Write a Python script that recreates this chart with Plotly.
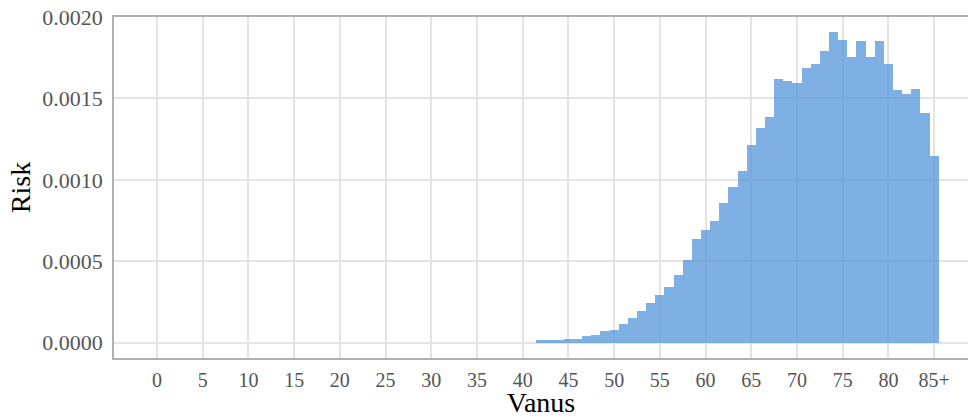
import plotly.graph_objects as go

ages = [str(a) for a in range(85)] + ["85+"]
risk = [0.0] * 42 + [
    0.000014, 0.000014, 0.000015,            # 42-44
    0.000025, 0.000025,                      # 45-46
    0.000044, 0.000046,                      # 47-48
    0.000069, 0.000080, 0.000117, 0.000150,  # 49-52
    0.000194, 0.000243, 0.000290, 0.000345,  # 53-56
    0.000417, 0.000509, 0.000636, 0.000693,  # 57-60
    0.000750, 0.000857, 0.000959, 0.001053,  # 61-64
    0.001215, 0.001319, 0.001386, 0.001617,  # 65-68
    0.001609, 0.001597, 0.001687, 0.001712,  # 69-72
    0.001791, 0.001905, 0.001861, 0.001756,  # 73-76
    0.001850, 0.001756, 0.001850, 0.001712,  # 77-80
    0.001550, 0.001525, 0.001560, 0.001409,  # 81-84
    0.001147,                                # 85+
]
x_ticks = [str(a) for a in range(0, 85, 5)] + ["85+"]
y_ticks = [0.0, 0.0005, 0.0010, 0.0015, 0.0020]
y_ticktext = ["0.0000", "0.0005", "0.0010", "0.0015", "0.0020"]

fig = go.Figure(
    go.Bar(
        x=ages,
        y=risk,
        marker=dict(color="rgb(84,150,218)", line=dict(width=0)),
        opacity=0.75,
        hoverinfo="x+y",
    )
)

font_family = "Liberation Serif, Times New Roman, serif"
fig.update_layout(
    width=968,
    height=418,
    margin=dict(l=114, r=0, t=17, b=60),
    paper_bgcolor="white",
    plot_bgcolor="white",
    bargap=0,
    showlegend=False,
    font=dict(family=font_family),
)
fig.update_xaxes(
    type="category",
    categoryorder="array",
    categoryarray=ages,
    range=[-4.7, 88.7],
    tickmode="array",
    tickvals=x_ticks,
    ticktext=x_ticks,
    tickfont=dict(size=20, color="#555555", family=font_family),
    ticks="",
    ticklabelstandoff=3,
    automargin=False,
    showgrid=True,
    gridcolor="#e4e4e4",
    gridwidth=1.5,
    showline=True,
    linecolor="#b0b0b0",
    linewidth=1.5,
    mirror=True,
    title=dict(text="Vanus", font=dict(size=28, color="black", family=font_family), standoff=7),
)
fig.update_yaxes(
    range=[-0.000094, 0.002],
    tickmode="array",
    tickvals=y_ticks,
    ticktext=y_ticktext,
    tickfont=dict(size=22, color="#555555", family=font_family),
    ticks="",
    ticklabelstandoff=5,
    automargin=False,
    showgrid=True,
    gridcolor="#e4e4e4",
    gridwidth=1.5,
    zeroline=False,
    showline=True,
    linecolor="#b0b0b0",
    linewidth=1.5,
    mirror=False,
    title=dict(text="Risk", font=dict(size=28, color="black", family=font_family), standoff=4),
)

fig.write_html(
    "out.html",
    config={"displayModeBar": False},
    post_script="document.body.style.margin='0';document.body.style.overflow='hidden';",
)
